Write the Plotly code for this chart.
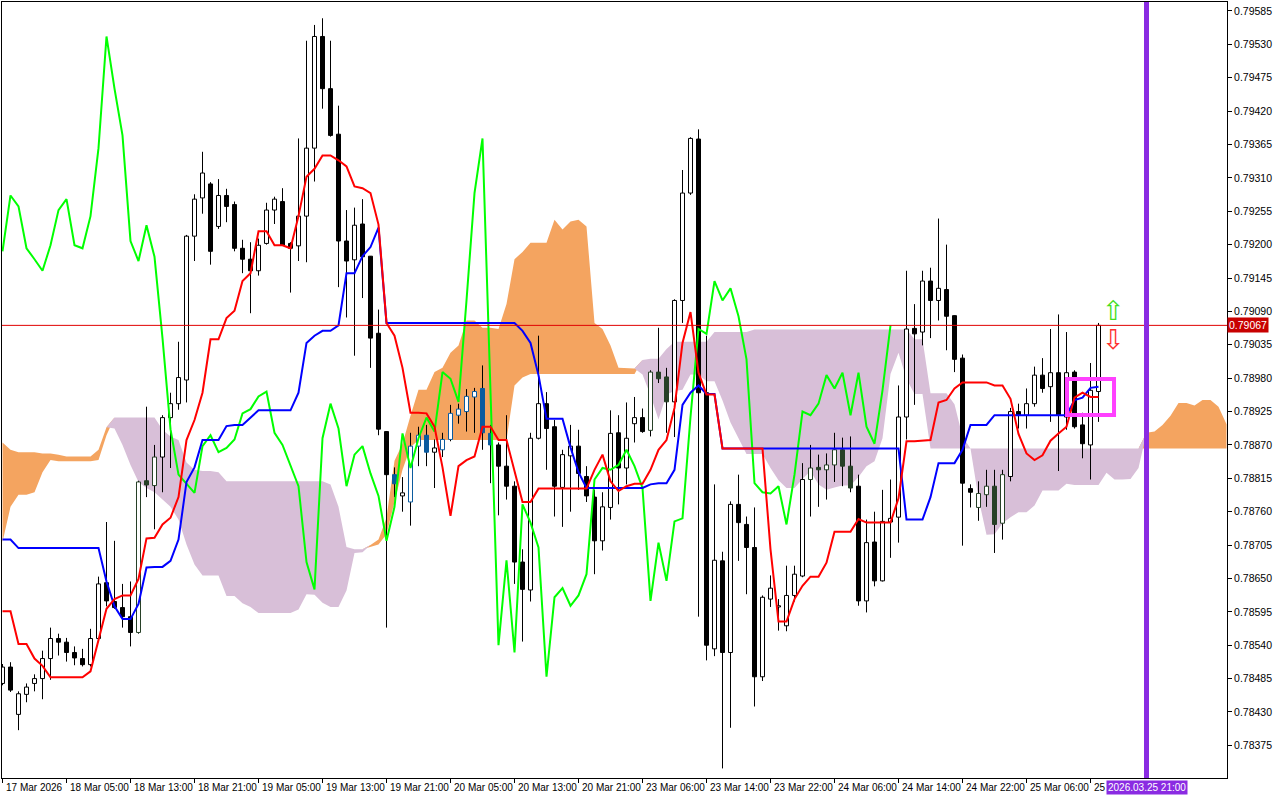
import numpy as np
import plotly.graph_objects as go

# ---------------- data (H1 bars) ----------------
open_ = [
    .78477, .78504, .78426, .78459, .78477, .78485, .78518, .78551, .78545, .78528,
    .78518, .78508, .78551, .78643, .78612, .78602, .78587, .78561, .78811, .78803,
    .78850, .78915, .78938, .78977, .79214, .79277, .79300, .79230, .79281, .79266,
    .79194, .79176, .79157, .79202, .79257, .79271, .79202, .79198, .79247, .79359,
    .79543, .79457, .79382, .79206, .79175, .79234, .79181, .79054, .78892, .78821,
    .78786, .78776, .78868, .78886, .78858, .78862, .78879, .78919, .78925, .78949,
    .78963, .78889, .78870, .78835, .78802, .78677, .78631, .78881, .78938, .78900,
    .78800, .78852, .78868, .78818, .78784, .78712, .78767, .78890, .78832, .78905,
    .78915, .78894, .78990, .78982, .78941, .79108, .79285, .79374, .78956, .78534,
    .78679, .78528, .78772, .78739, .78701, .78488, .78616, .78603, .78572, .78622,
    .78654, .78813, .78833, .78829, .78837, .78862, .78835, .78802, .78613, .78710,
    .78646, .78743, .78751, .78916, .79062, .79056, .79140, .79108, .79126, .79083,
    .79013, .78798, .78767, .78788, .78802, .78741, .78818, .78925, .78919, .78938,
    .78985, .78966, .78989, .78916, .78990, .78903, .78870, .78958]
high_ = [
    .78509, .78512, .78464, .78477, .78492, .78531, .78569, .78559, .78552, .78538,
    .78534, .78567, .78653, .78743, .78712, .78641, .78645, .78811, .78933, .78870,
    .78919, .78956, .79040, .79216, .79283, .79353, .79303, .79308, .79292, .79271,
    .79208, .79204, .79210, .79269, .79279, .79293, .79204, .79375, .79536, .79562,
    .79573, .79536, .79429, .79257, .79261, .79275, .79181, .79093, .78892, .78833,
    .78817, .78890, .78900, .78903, .78879, .78890, .78936, .78938, .78962, .78964,
    .79001, .78903, .78874, .78919, .78810, .78698, .78890, .79050, .78957, .78911,
    .78862, .78903, .78895, .78835, .78796, .78792, .78927, .78919, .78940, .78949,
    .78930, .78993, .79063, .78997, .79110, .79323, .79377, .79390, .79050, .78805,
    .78694, .78777, .78821, .78752, .78767, .78622, .78655, .78616, .78671, .78671,
    .78840, .78870, .78854, .78856, .78890, .78882, .78884, .78821, .78747, .78760,
    .78796, .78813, .78968, .79157, .79102, .79157, .79162, .79243, .79200, .79083,
    .79019, .78805, .78810, .78829, .78829, .78829, .78931, .78938, .78963, .78999,
    .79013, .79061, .79085, .79056, .78993, .78923, .79005, .79071]
low_ = [
    .78474, .78463, .78400, .78446, .78464, .78451, .78483, .78523, .78513, .78507,
    .78505, .78505, .78546, .78604, .78600, .78569, .78538, .78559, .78784, .78731,
    .78792, .78832, .78928, .78940, .79173, .79251, .79167, .79226, .79237, .79189,
    .79153, .79087, .79149, .79200, .79234, .79198, .79121, .79173, .79171, .79304,
    .79424, .79378, .79130, .79080, .79017, .79112, .78997, .78886, .78569, .78784,
    .78760, .78737, .78835, .78835, .78799, .78850, .78876, .78905, .78892, .78890,
    .78862, .78807, .78754, .78780, .78641, .78546, .78612, .78879, .78829, .78752,
    .78735, .78760, .78796, .78776, .78657, .78696, .78747, .78772, .78805, .78874,
    .78890, .78884, .78972, .78890, .78883, .79071, .79282, .78587, .78515, .78522,
    .78337, .78404, .78679, .78624, .78439, .78481, .78603, .78564, .78563, .78612,
    .78652, .78752, .78768, .78780, .78809, .78802, .78792, .78605, .78594, .78637,
    .78645, .78684, .78709, .78879, .78936, .79034, .79046, .79075, .79026, .78990,
    .78704, .78767, .78745, .78768, .78692, .78714, .78810, .78897, .78897, .78933,
    .78956, .78908, .78827, .78895, .78897, .78848, .78813, .78908]
close_ = [
    .78504, .78466, .78460, .78471, .78485, .78518, .78551, .78545, .78528, .78519,
    .78508, .78551, .78641, .78613, .78602, .78587, .78561, .78809, .78804, .78850,
    .78915, .78938, .78981, .79214, .79275, .79318, .79189, .79281, .79263, .79194,
    .79176, .79157, .79199, .79257, .79275, .79199, .79194, .79247, .79359, .79543,
    .79457, .79380, .79206, .79173, .79232, .79180, .79046, .78896, .78821, .78806,
    .78791, .78868, .78886, .78858, .78865, .78879, .78922, .78929, .78950, .78958,
    .78890, .78870, .78835, .78802, .78677, .78632, .78881, .78938, .78897, .78802,
    .78854, .78868, .78823, .78786, .78712, .78768, .78889, .78832, .78881, .78915,
    .78892, .78990, .78979, .78941, .79108, .79285, .79375, .78956, .78540, .78680,
    .78528, .78772, .78742, .78701, .78488, .78619, .78634, .78605, .78622, .78657,
    .78813, .78832, .78829, .78837, .78862, .78835, .78799, .78613, .78709, .78646,
    .78744, .78749, .78916, .79061, .79053, .79140, .79108, .79128, .79082, .79011,
    .78807, .78792, .78790, .78802, .78739, .78821, .78925, .78919, .78938, .78985,
    .78963, .78989, .78919, .78989, .78900, .78872, .78960, .79067]

tenkan = [
    .78596, .78596, .78542, .78542, .78518, .78506, .78487, .78487, .78487, .78487,
    .78487, .78497, .78547, .78600, .78616, .78622, .78622, .78649, .78716, .78717,
    .78739, .78750, .78784, .78878, .78911, .78956, .79044, .79044, .79079, .79091,
    .79140, .79153, .79222, .79222, .79199, .79199, .79194, .79247, .79312, .79325,
    .79347, .79347, .79339, .79329, .79296, .79293, .79285, .79233, .79071, .79050,
    .78997, .78923, .78923, .78922, .78900, .78833, .78753, .78835, .78845, .78851,
    .78900, .78900, .78878, .78878, .78827, .78776, .78776, .78798, .78798, .78798,
    .78798, .78798, .78798, .78798, .78829, .78854, .78810, .78794, .78802, .78806,
    .78806, .78829, .78862, .78878, .78931, .79038, .79089, .78989, .78953, .78953,
    .78864, .78864, .78864, .78864, .78864, .78864, .78698, .78579, .78579, .78616,
    .78638, .78653, .78653, .78676, .78727, .78727, .78727, .78748, .78742, .78742,
    .78742, .78742, .78782, .78876, .78876, .78877, .78878, .78940, .78944, .78963,
    .78973, .78973, .78973, .78973, .78968, .78968, .78946, .78888, .78856, .78845,
    .78853, .78877, .78889, .78900, .78948, .78956, .78949, .78949]
kijun = [
    .78714, .78714, .78700, .78700, .78700, .78700, .78700, .78700, .78700, .78700,
    .78700, .78700, .78700, .78645, .78604, .78583, .78583, .78608, .78668, .78669,
    .78669, .78679, .78714, .78809, .78833, .78878, .78878, .78878, .78901, .78903,
    .78903, .78915, .78927, .78927, .78927, .78927, .78927, .78956, .79038, .79050,
    .79058, .79058, .79067, .79153, .79153, .79181, .79196, .79228, .79071, .79071,
    .79071, .79071, .79071, .79071, .79071, .79071, .79071, .79071, .79071, .79071,
    .79071, .79071, .79071, .79071, .79071, .79058, .79038, .78985, .78913, .78913,
    .78913, .78866, .78825, .78799, .78799, .78799, .78799, .78799, .78799, .78799,
    .78799, .78805, .78807, .78807, .78829, .78936, .78956, .78968, .78954, .78954,
    .78864, .78864, .78864, .78864, .78864, .78864, .78864, .78864, .78864, .78864,
    .78864, .78864, .78864, .78864, .78864, .78864, .78864, .78864, .78864, .78864,
    .78864, .78864, .78864, .78747, .78747, .78747, .78784, .78840, .78840, .78840,
    .78862, .78903, .78903, .78903, .78919, .78919, .78919, .78919, .78919, .78919,
    .78919, .78919, .78919, .78919, .78944, .78948, .78964, .78966]
# cloud spans, already shifted 26 bars forward (extend past the last bar)
senkou_a = [
    .78874, .78862, .78858, .78858, .78858, .78856, .78856, .78854, .78851, .78851,
    .78851, .78851, .78862, .78899, .78897, .78870, .78837, .78809, .78799, .78792,
    .78780, .78768, .78747, .78706, .78673, .78655, .78655, .78655, .78621, .78621,
    .78609, .78603, .78593, .78593, .78593, .78593, .78593, .78599, .78624, .78623,
    .78610, .78603, .78603, .78630, .78692, .78693, .78705, .78714, .78750, .78844,
    .78872, .78918, .78961, .78961, .78990, .78997, .79022, .79034, .79075, .79075,
    .79063, .79063, .79061, .79102, .79176, .79188, .79203, .79203, .79203, .79241,
    .79225, .79238, .79241, .79230, .79071, .79061, .79034, .78997, .78997, .78996,
    .78986, .78952, .78912, .78953, .78959, .78961, .78986, .78986, .78975, .78975,
    .78943, .78907, .78881, .78855, .78855, .78855, .78832, .78812, .78799, .78799,
    .78814, .78827, .78805, .78796, .78800, .78803, .78803, .78817, .78835, .78843,
    .78881, .78987, .79022, .78979, .78954, .78954, .78864, .78864, .78864, .78864,
    .78864, .78864, .78782, .78722, .78723, .78741, .78751, .78759, .78759, .78770,
    .78795, .78795, .78795, .78806, .78804, .78804, .78804, .78804, .78824, .78813,
    .78813, .78814, .78832, .78890, .78892, .78903, .78918, .78939, .78939, .78935,
    .78944, .78944, .78933, .78904]
senkou_b = [
    .78710, .78768, .78788, .78788, .78792, .78825, .78845, .78843, .78843, .78843,
    .78843, .78843, .78845, .78886, .78915, .78915, .78915, .78915, .78915, .78915,
    .78895, .78884, .78878, .78841, .78829, .78827, .78827, .78825, .78810, .78810,
    .78810, .78810, .78810, .78810, .78810, .78810, .78810, .78810, .78810, .78810,
    .78810, .78805, .78768, .78702, .78698, .78698, .78702, .78706, .78723, .78776,
    .78829, .78866, .78878, .78878, .78878, .78878, .78878, .78878, .78878, .78878,
    .78878, .78878, .78878, .78878, .78968, .78981, .78987, .78987, .78987, .78987,
    .78987, .78987, .78987, .78987, .78987, .78987, .78987, .78987, .78987, .78987,
    .79010, .79012, .79012, .79028, .79040, .79040, .79040, .79040, .79040, .79056,
    .79056, .79056, .79056, .79056, .79060, .79060, .79060, .79060, .79060, .79060,
    .79060, .79060, .79060, .79060, .79060, .79060, .79060, .79060, .79060, .79060,
    .79060, .79060, .79060, .79060, .79044, .79044, .78955, .78955, .78955, .78937,
    .78884, .78864, .78864, .78864, .78864, .78864, .78864, .78864, .78864, .78864,
    .78864, .78864, .78864, .78864, .78864, .78864, .78864, .78864, .78864, .78864,
    .78864, .78864, .78864, .78864, .78864, .78864, .78864, .78864, .78864, .78864,
    .78864, .78864, .78864, .78864]

x_tick_labels = ["17 Mar 2026", "18 Mar 05:00", "18 Mar 13:00", "18 Mar 21:00",
                 "19 Mar 05:00", "19 Mar 13:00", "19 Mar 21:00", "20 Mar 05:00",
                 "20 Mar 13:00", "20 Mar 21:00", "23 Mar 06:00", "23 Mar 14:00",
                 "23 Mar 22:00", "24 Mar 06:00", "24 Mar 14:00", "24 Mar 22:00",
                 "25 Mar 06:00", "25 Mar 14:00"]
y_tick_labels = ["0.78375", "0.78430", "0.78485", "0.78540", "0.78595", "0.78650",
                 "0.78705", "0.78760", "0.78815", "0.78870", "0.78925", "0.78980",
                 "0.79035", "0.79090", "0.79145", "0.79200", "0.79255", "0.79310",
                 "0.79365", "0.79420", "0.79475", "0.79530", "0.79585"]
last_price = 0.79067
vline_label = "2026.03.25 21:00"
vline_bars_after_last = 6
box_bars = (133.06, 138.94)
box_prices = (0.789193, 0.789786)
arrow_bar = 138.9
arrow_up_price = 0.790923
arrow_dn_price = 0.790429

# ---------------- styling constants ----------------
FONT = "Liberation Sans"
ORANGE = "#f4a460"
THISTLE = "#d8bfd8"
XOR_ORANGE = "#0b5b9f"
XOR_THISTLE = "#274027"
CHIKOU_SHIFT = 26
TICK_EVERY = 8
HALF_BODY = 0.25

n = min(len(open_), len(high_), len(low_), len(close_))
bars = np.arange(n)
A = np.array(senkou_a)
B = np.array(senkou_b)
cloud_x = np.arange(len(A))
upper = np.maximum(A, B)

fig = go.Figure()

# cloud
fig.add_trace(go.Scatter(x=cloud_x, y=B, mode="lines", line=dict(width=0), hoverinfo="skip"))
fig.add_trace(go.Scatter(x=cloud_x, y=upper, mode="lines", line=dict(width=0),
                         fill="tonexty", fillcolor=ORANGE, hoverinfo="skip"))
fig.add_trace(go.Scatter(x=cloud_x, y=A, mode="lines", line=dict(width=0), hoverinfo="skip"))
fig.add_trace(go.Scatter(x=cloud_x, y=upper, mode="lines", line=dict(width=0),
                         fill="tonexty", fillcolor=THISTLE, hoverinfo="skip"))

# wicks
wx, wy = [], []
for k in range(n):
    wx += [k, k, None]
    wy += [low_[k], high_[k], None]
fig.add_trace(go.Scatter(x=wx, y=wy, mode="lines", line=dict(color="black", width=1),
                         hoverinfo="skip"))

# bodies
groups = {}
for k in range(n):
    o, c = open_[k], close_[k]
    top, bot = max(o, c), min(o, c)
    lo, hi = min(A[k], B[k]), max(A[k], B[k])
    zone = None
    if lo <= top <= hi and hi > lo:
        zone = "orange" if A[k] > B[k] else "lav"
    key = (c >= o, zone)
    xs, ys = groups.setdefault(key, ([], []))
    xs += [k - HALF_BODY, k + HALF_BODY, k + HALF_BODY, k - HALF_BODY, k - HALF_BODY, None]
    ys += [bot, bot, top, top, bot, None]

styles = {
    (False, None): ("black", "black"),
    (False, "orange"): (XOR_ORANGE, XOR_ORANGE),
    (False, "lav"): (XOR_THISTLE, XOR_THISTLE),
    (True, None): ("white", "black"),
    (True, "orange"): ("white", XOR_ORANGE),
    (True, "lav"): ("white", XOR_THISTLE),
}
for key, (xs, ys) in groups.items():
    fillc, linec = styles[key]
    fig.add_trace(go.Scatter(x=xs, y=ys, mode="lines", fill="toself", fillcolor=fillc,
                             line=dict(color=linec, width=1), hoverinfo="skip"))

# indicator lines
fig.add_trace(go.Scatter(x=bars[:n - CHIKOU_SHIFT], y=close_[CHIKOU_SHIFT:n], mode="lines",
                         line=dict(color="#00ff00", width=2), hoverinfo="skip"))
fig.add_trace(go.Scatter(x=np.arange(len(kijun)), y=kijun, mode="lines",
                         line=dict(color="#0000ff", width=2), hoverinfo="skip"))
fig.add_trace(go.Scatter(x=np.arange(len(tenkan)), y=tenkan, mode="lines",
                         line=dict(color="#ff0000", width=2), hoverinfo="skip"))

# shapes
vline_bar = n - 1 + vline_bars_after_last
fig.add_shape(type="line", xref="paper", x0=0, x1=1, yref="y", y0=last_price, y1=last_price,
              line=dict(color="#e00000", width=1))
fig.add_shape(type="rect", xref="x", yref="y", x0=box_bars[0], x1=box_bars[1],
              y0=box_prices[0], y1=box_prices[1], line=dict(color="#ff40ff", width=4))
fig.add_shape(type="line", xref="x", yref="paper", x0=vline_bar, x1=vline_bar, y0=0, y1=1,
              line=dict(color="#8a2be2", width=5))

# annotations
tick_pos = list(range(0, n, TICK_EVERY))[:len(x_tick_labels)]
annotations = []
for pos, lab in zip(tick_pos, x_tick_labels):
    annotations.append(dict(x=pos, y=0, xref="x", yref="paper", xanchor="left", yanchor="top",
                            xshift=1, yshift=-2, text=lab, showarrow=False,
                            font=dict(family=FONT, size=10, color="black")))
annotations.append(dict(x=vline_bar, y=0, xref="x", yref="paper", xanchor="center",
                        yanchor="top", yshift=-2, text=vline_label, showarrow=False,
                        bgcolor="#8a2be2", borderpad=1,
                        font=dict(family=FONT, size=10, color="white")))
annotations.append(dict(x=1, y=last_price, xref="paper", yref="y", xanchor="left",
                        yanchor="middle", text=str(last_price), showarrow=False,
                        bgcolor="#c80000", borderpad=1,
                        font=dict(family=FONT, size=10.5, color="white")))
annotations.append(dict(x=arrow_bar, y=arrow_up_price, xref="x", yref="y", text="\u21e7",
                        showarrow=False, font=dict(family="DejaVu Sans", size=27, color="#44dd22")))
annotations.append(dict(x=arrow_bar, y=arrow_dn_price, xref="x", yref="y", text="\u21e9",
                        showarrow=False, font=dict(family="DejaVu Sans", size=27, color="#ff3030")))

fig.update_layout(
    width=1280, height=800,
    margin=dict(l=2, r=53, t=2, b=22),
    paper_bgcolor="white", plot_bgcolor="white",
    showlegend=False,
    annotations=annotations,
    xaxis=dict(range=[-0.0625, 153.0625], showgrid=False, zeroline=False,
               showline=True, linecolor="black", linewidth=1, mirror=True,
               ticks="outside", ticklen=4, tickcolor="black", tickvals=tick_pos,
               showticklabels=False, fixedrange=True),
    yaxis=dict(range=[0.783212, 0.795998], side="right", showgrid=False, zeroline=False,
               showline=True, linecolor="black", linewidth=1, mirror=True,
               ticks="outside", ticklen=4, tickcolor="black",
               tickvals=[float(s) for s in y_tick_labels], ticktext=y_tick_labels,
               tickfont=dict(family=FONT, size=10.5, color="black"), fixedrange=True),
)

fig.write_html("out.html", config={"displayModeBar": False},
               post_script="document.body.style.margin='0';document.body.style.padding='0';")
